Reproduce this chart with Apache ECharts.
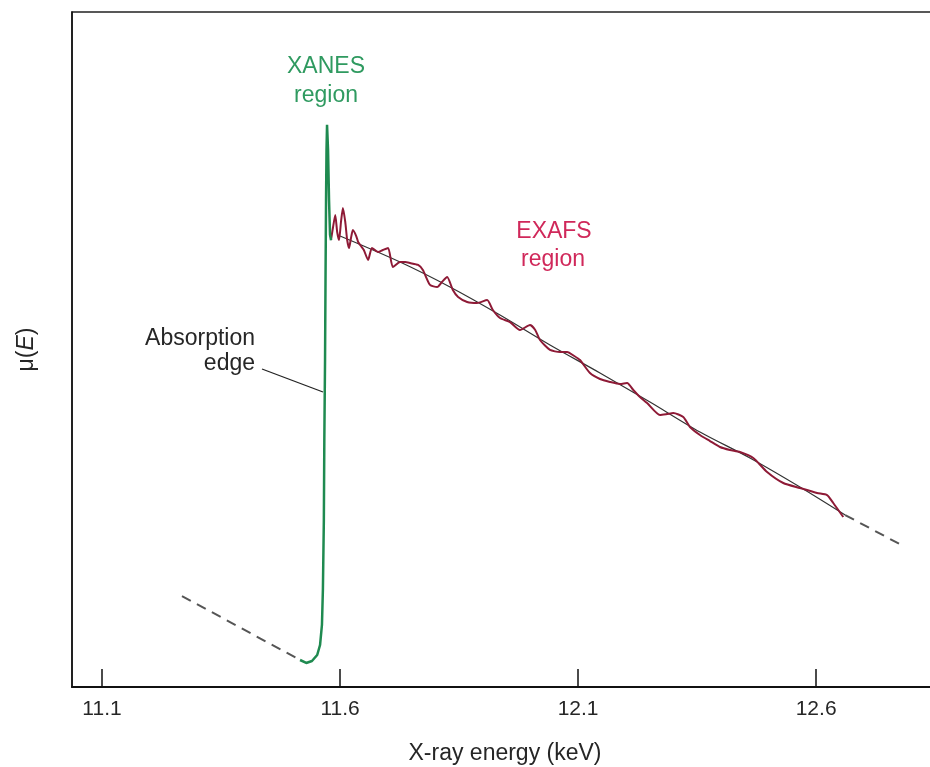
<!DOCTYPE html>
<html>
<head>
<meta charset="utf-8">
<script src="https://cdn.jsdelivr.net/npm/echarts@6/dist/echarts.min.js"></script>
<style>html,body{margin:0;padding:0;background:#fff}#c{width:930px;height:767px}</style>
</head>
<body>
<div id="c"></div>
<script>
var tickValues = [11.1, 11.6, 12.1, 12.6];
var preEdge = [[11.268,13.48],[11.516,4.0]];
var xanes = [[11.516,4.0],[11.529,3.56],[11.541,3.85],[11.552,4.74],[11.558,6.22],[11.562,9.19],[11.564,14.4],[11.566,24.7],[11.567,36.6],[11.5685,48.4],[11.5695,60.3],[11.5706,72.1],[11.5716,79.6],[11.5727,83.3],[11.5748,79.6],[11.5769,72.1],[11.579,67.0],[11.5811,66.2]];
var exafs = [[11.581,66.22],[11.585,68.00],[11.590,69.93],[11.594,67.41],[11.598,66.22],[11.602,68.89],[11.606,70.96],[11.611,68.89],[11.615,66.22],[11.619,65.04],[11.623,66.52],[11.627,67.70],[11.634,66.81],[11.638,65.93],[11.644,65.33],[11.650,64.74],[11.659,63.26],[11.667,65.04],[11.680,64.44],[11.690,64.74],[11.701,65.04],[11.711,62.22],[11.726,62.96],[11.737,62.96],[11.747,62.81],[11.764,62.52],[11.774,61.78],[11.789,59.56],[11.804,59.26],[11.814,60.00],[11.825,60.74],[11.837,58.81],[11.848,57.78],[11.867,57.04],[11.888,56.89],[11.909,57.33],[11.921,55.85],[11.936,54.67],[11.957,54.07],[11.978,52.89],[11.999,53.63],[12.010,52.89],[12.020,51.41],[12.041,49.93],[12.062,49.63],[12.077,49.63],[12.092,49.04],[12.104,48.44],[12.125,46.52],[12.146,45.63],[12.167,45.19],[12.188,44.89],[12.203,45.04],[12.216,44.00],[12.230,42.96],[12.245,42.07],[12.272,40.30],[12.287,40.44],[12.300,40.59],[12.321,40.00],[12.335,38.52],[12.356,37.33],[12.377,36.44],[12.398,35.56],[12.419,35.11],[12.440,34.81],[12.468,33.93],[12.497,31.85],[12.531,30.22],[12.566,29.48],[12.602,28.74],[12.623,28.44],[12.636,27.26],[12.657,25.19]];
var background = [[11.600,66.81],[11.726,62.96],[11.831,59.26],[11.936,55.11],[12.041,50.67],[12.146,46.52],[12.251,42.22],[12.356,37.78],[12.461,33.93],[12.566,29.63],[12.661,25.48]];
var postEdge = [[12.661,25.48],[12.787,20.74]];

var chart = echarts.init(document.getElementById('c'), null, {renderer:'canvas'});
var font = 'Liberation Sans, Arial, sans-serif';
var txt = '#262626';
chart.setOption({
  animation: false,
  backgroundColor: '#fff',
  grid: {left: 72, right: -8, top: 12, bottom: 80, show: true, borderColor: '#222', borderWidth: 1.5, containLabel: false, outerBoundsMode: 'none'},
  xAxis: {
    type: 'value', min: 11.037, max: 12.856,
    splitLine: {show: false},
    axisLine: {show: true, lineStyle: {color: '#111', width: 2}},
    axisTick: {show: true, inside: true, length: 18, customValues: tickValues, lineStyle: {color: '#111', width: 1.5}},
    axisLabel: {customValues: tickValues, formatter: function(v){return v.toFixed(1);}, color: txt, fontSize: 21, fontFamily: font, margin: 12},
    name: 'X-ray energy (keV)', nameLocation: 'middle', nameGap: 55,
    nameTextStyle: {color: txt, fontSize: 23, fontFamily: font, padding: [0, 0, 0, 0]}
  },
  yAxis: {
    type: 'value', min: 0, max: 100,
    splitLine: {show: false},
    axisLine: {show: true, lineStyle: {color: '#111', width: 1.5}},
    axisTick: {show: false}, axisLabel: {show: false},
    name: '{a|μ(}{b|E}{a|)}', nameLocation: 'middle', nameGap: 34,
    nameTextStyle: {rich: {a: {fontSize: 23, fontFamily: font, color: txt}, b: {fontSize: 23, fontFamily: font, fontStyle: 'italic', color: txt}}}
  },
  series: [
    {type: 'line', data: preEdge, showSymbol: false, lineStyle: {color: '#555', width: 2, type: [10, 7]}},
    {type: 'line', data: postEdge, showSymbol: false, lineStyle: {color: '#555', width: 2, type: [10, 7]}},
    {type: 'line', data: background, showSymbol: false, smooth: 0.3, lineStyle: {color: '#333', width: 1.2}},
    {type: 'line', data: exafs, showSymbol: false, smooth: 0.2, lineStyle: {color: '#8e1a36', width: 2}},
    {type: 'line', data: xanes, showSymbol: false, lineStyle: {color: '#1f8a50', width: 2.5}}
  ],
  graphic: [
    {type: 'text', x: 326, y: 67, style: {text: 'XANES', fill: '#2f9a60', font: '23px ' + font, align: 'center', verticalAlign: 'middle'}},
    {type: 'text', x: 326, y: 96, style: {text: 'region', fill: '#2f9a60', font: '23px ' + font, align: 'center', verticalAlign: 'middle'}},
    {type: 'text', x: 554, y: 232, style: {text: 'EXAFS', fill: '#d0285a', font: '23px ' + font, align: 'center', verticalAlign: 'middle'}},
    {type: 'text', x: 553, y: 260, style: {text: 'region', fill: '#d0285a', font: '23px ' + font, align: 'center', verticalAlign: 'middle'}},
    {type: 'text', x: 255, y: 339, style: {text: 'Absorption', fill: txt, font: '23px ' + font, align: 'right', verticalAlign: 'middle'}},
    {type: 'text', x: 255, y: 364, style: {text: 'edge', fill: txt, font: '23px ' + font, align: 'right', verticalAlign: 'middle'}},
    {type: 'line', shape: {x1: 262, y1: 369, x2: 323, y2: 392}, style: {stroke: '#222', lineWidth: 1.3}}
  ]
});
</script>
</body>
</html>
